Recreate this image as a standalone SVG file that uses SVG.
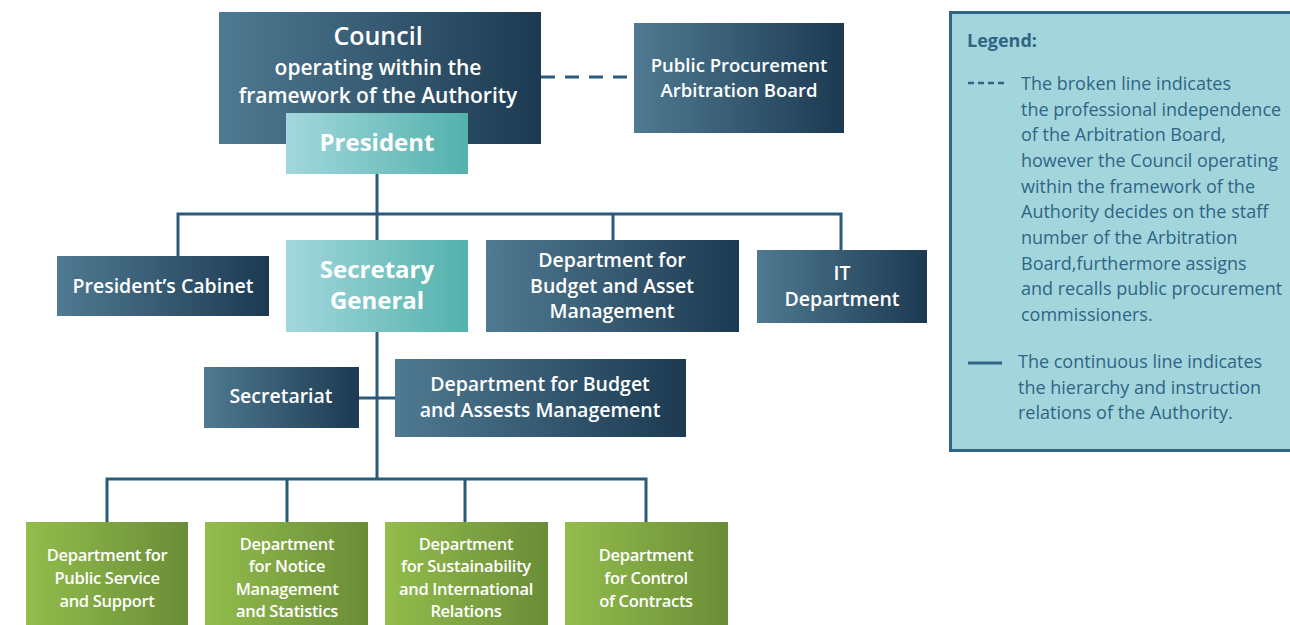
<svg xmlns="http://www.w3.org/2000/svg" width="1290" height="625" viewBox="0 0 1290 625">
<defs>
<linearGradient id="gDark" x1="0" y1="0" x2="1" y2="0"><stop offset="0" stop-color="#4f7a91"/><stop offset="1" stop-color="#1c3a52"/></linearGradient>
<linearGradient id="gTeal" x1="0" y1="0" x2="1" y2="0"><stop offset="0" stop-color="#a4d7dd"/><stop offset="1" stop-color="#52b2ac"/></linearGradient>
<linearGradient id="gGreen" x1="0" y1="0" x2="1" y2="0"><stop offset="0" stop-color="#93bd4c"/><stop offset="1" stop-color="#6a8c38"/></linearGradient>
<style>
.dark{fill:url(#gDark)}
.teal{fill:url(#gTeal)}
.green{fill:url(#gGreen)}
.t{font-family:"Open Sans","Noto Sans",sans-serif;font-weight:600;fill:#ffffff;text-anchor:middle}
.big{font-size:24px;font-weight:700}
.mid{font-size:21px}
.sm{font-size:19.5px}
.pp{font-size:18.5px}
.gr{font-size:16.5px;letter-spacing:-0.3px}
.conn{fill:none;stroke:#2b5b78;stroke-width:3}
.leg{font-family:"Open Sans","Noto Sans",sans-serif;font-size:18px;fill:#2f6585}
</style>
</defs>
<rect width="1290" height="625" fill="#ffffff"/>

<g id="connectors">
<line class="conn" x1="541" y1="77" x2="634" y2="77" stroke-dasharray="14,10"/>
<path class="conn" d="M377 174V214M178 256V214H841V250M613 214V240M377 214V240"/>
<path class="conn" d="M377 332V479M359 398H395M107 522V479H646V522M287 479V522M465 479V522"/>
</g>

<g id="council">
<rect class="dark" x="219" y="12" width="322" height="132"/>
<text class="t" x="378" y="45" font-size="25" font-weight="700">Council</text>
<text class="t mid" x="378" y="75">operating within the</text>
<text class="t mid" x="378" y="103">framework of the Authority</text>
</g>

<g id="president">
<rect class="teal" x="286" y="113" width="182" height="61"/>
<text class="t big" x="377" y="151">President</text>
</g>

<g id="ppab">
<rect class="dark" x="634" y="23" width="210" height="110"/>
<text class="t pp" x="739" y="72">Public Procurement</text>
<text class="t pp" x="739" y="97">Arbitration Board</text>
</g>

<g id="legend">
<rect x="950.5" y="12.5" width="345" height="438" fill="#a3d5dc" stroke="#2f6585" stroke-width="3"/>
<text class="leg" x="967" y="47" font-weight="700" font-size="17">Legend:</text>
<line x1="968" y1="83" x2="1004" y2="83" stroke="#2f6585" stroke-width="2.5" stroke-dasharray="6,4"/>
<text class="leg" x="1021" y="90">The broken line indicates</text>
<text class="leg" x="1021" y="115.7">the professional independence</text>
<text class="leg" x="1021" y="141.3">of the Arbitration Board,</text>
<text class="leg" x="1021" y="167">however the Council operating</text>
<text class="leg" x="1021" y="192.7">within the framework of the</text>
<text class="leg" x="1021" y="218.3">Authority decides on the staff</text>
<text class="leg" x="1021" y="244">number of the Arbitration</text>
<text class="leg" x="1021" y="269.7">Board,furthermore assigns</text>
<text class="leg" x="1021" y="295.3">and recalls public procurement</text>
<text class="leg" x="1021" y="321">commissioners.</text>
<line x1="968" y1="363" x2="1002" y2="363" stroke="#2f6585" stroke-width="3"/>
<text class="leg" x="1018" y="368">The continuous line indicates</text>
<text class="leg" x="1018" y="393.5">the hierarchy and instruction</text>
<text class="leg" x="1018" y="419">relations of the Authority.</text>
</g>

<g id="presidents-cabinet">
<rect class="dark" x="57" y="256" width="212" height="60"/>
<text class="t sm" x="163" y="293">President’s Cabinet</text>
</g>

<g id="secretary-general">
<rect class="teal" x="286" y="240" width="182" height="92"/>
<text class="t big" x="377" y="278">Secretary</text>
<text class="t big" x="377" y="309">General</text>
</g>

<g id="dept-budget-asset">
<rect class="dark" x="486" y="240" width="253" height="92"/>
<text class="t sm" x="612" y="267">Department for</text>
<text class="t sm" x="612" y="293">Budget and Asset</text>
<text class="t sm" x="612" y="318">Management</text>
</g>

<g id="it-department">
<rect class="dark" x="757" y="250" width="170" height="73"/>
<text class="t sm" x="842" y="280">IT</text>
<text class="t sm" x="842" y="306">Department</text>
</g>

<g id="secretariat">
<rect class="dark" x="204" y="367" width="155" height="61"/>
<text class="t sm" x="281" y="403">Secretariat</text>
</g>

<g id="dept-budget-assests">
<rect class="dark" x="395" y="359" width="291" height="78"/>
<text class="t sm" x="540" y="391">Department for Budget</text>
<text class="t sm" x="540" y="417">and Assests Management</text>
</g>

<g id="dept-public-service">
<rect class="green" x="26" y="522" width="162" height="110"/>
<text class="t gr" x="107" y="561">Department for</text>
<text class="t gr" x="107" y="584">Public Service</text>
<text class="t gr" x="107" y="607">and Support</text>
</g>

<g id="dept-notice">
<rect class="green" x="205" y="522" width="163" height="110"/>
<text class="t gr" x="287" y="550">Department</text>
<text class="t gr" x="287" y="572">for Notice</text>
<text class="t gr" x="287" y="595">Management</text>
<text class="t gr" x="287" y="617">and Statistics</text>
</g>

<g id="dept-sustainability">
<rect class="green" x="385" y="522" width="163" height="110"/>
<text class="t gr" x="466" y="550">Department</text>
<text class="t gr" x="466" y="572">for Sustainability</text>
<text class="t gr" x="466" y="595">and International</text>
<text class="t gr" x="466" y="617">Relations</text>
</g>

<g id="dept-control">
<rect class="green" x="565" y="522" width="163" height="110"/>
<text class="t gr" x="646" y="561">Department</text>
<text class="t gr" x="646" y="584">for Control</text>
<text class="t gr" x="646" y="607">of Contracts</text>
</g>
</svg>
